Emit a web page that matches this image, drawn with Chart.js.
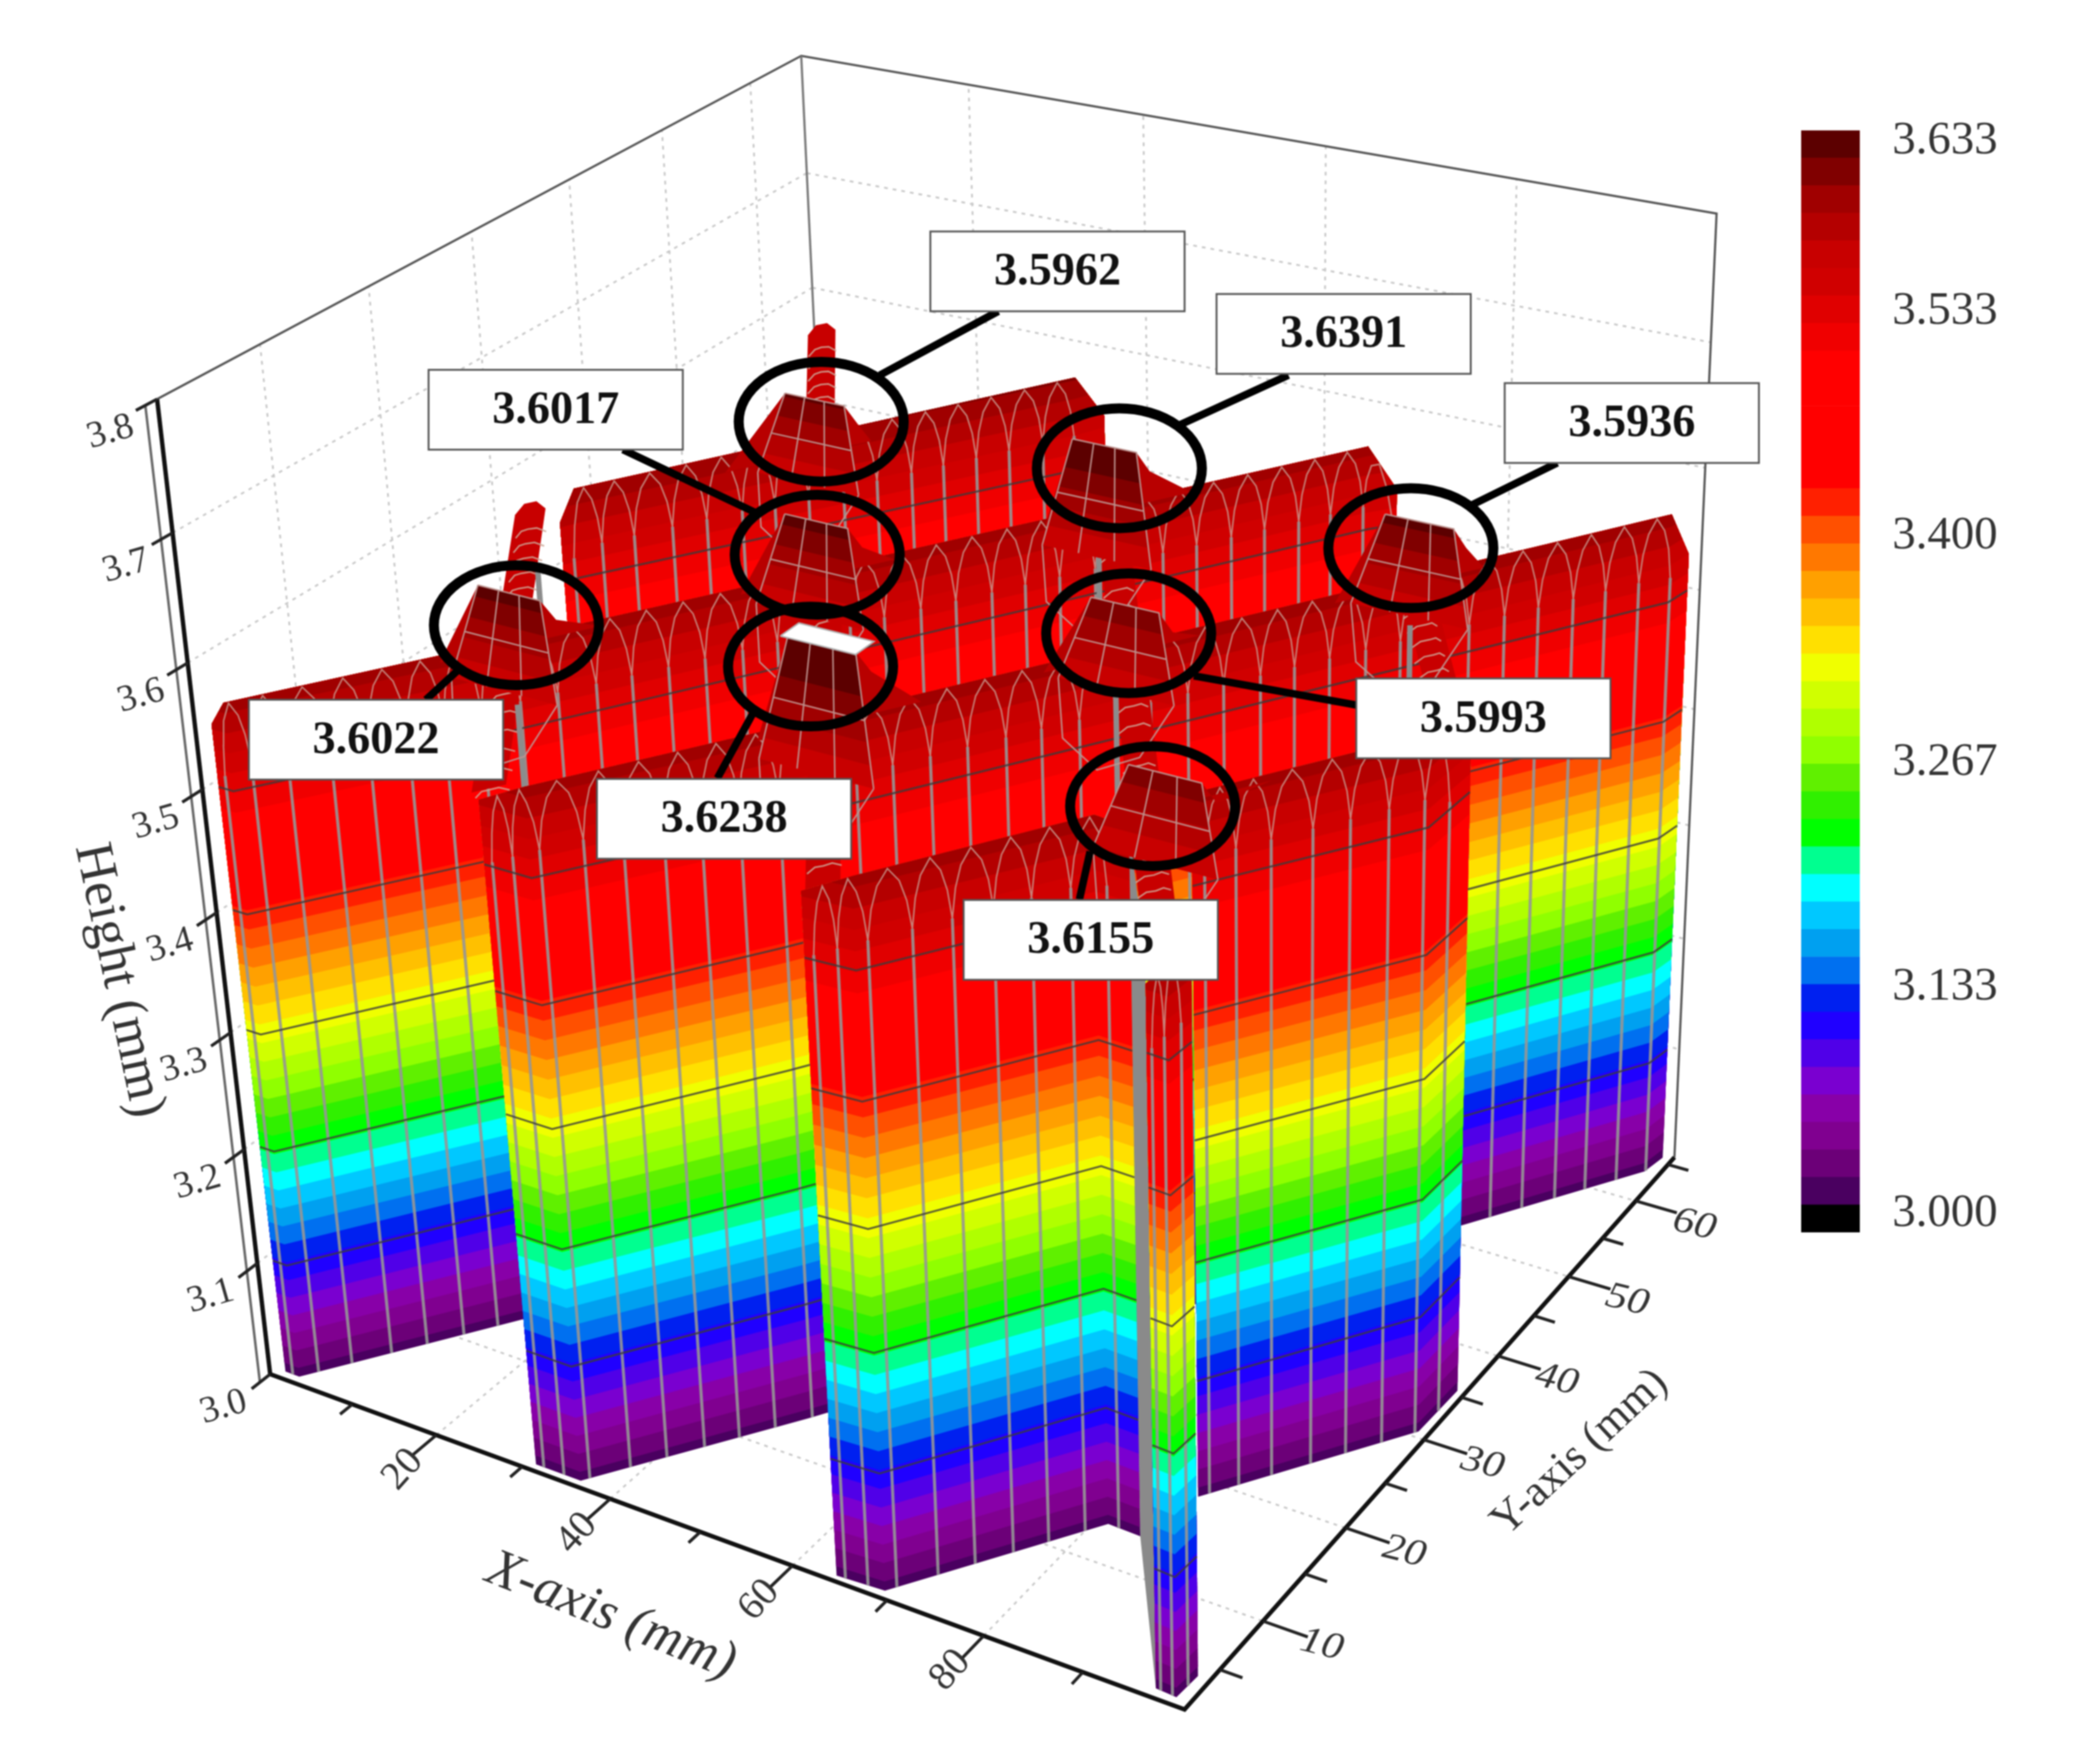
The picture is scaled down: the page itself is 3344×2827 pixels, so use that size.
<!DOCTYPE html>
<html><head><meta charset="utf-8">
<style>html,body{margin:0;padding:0;background:#fff}
#wrap{position:relative;width:3344px;height:2827px;overflow:hidden}
canvas{position:absolute;filter:blur(0.8px)}</style>
<script src="https://cdn.jsdelivr.net/npm/chart.js@4"></script></head>
<body><div id="wrap">
<canvas id="main" width="3344" height="2827" style="left:0;top:0"></canvas>
<canvas id="bar" width="458" height="1944" style="left:2886px;top:120px"></canvas>
</div>
<script>
// ---- data (mm / mm / mm) ----
const xTickMajor=[20,40,60,80], xTickMinor=[10,30,50,70,90];
const yTickMajor=[10,20,30,40,50,60], yTickMinor=[5,15,25,35,45,55,65];
const zTicks=[3.0,3.1,3.2,3.3,3.4,3.5,3.6,3.7,3.8];
const zTickLabels=['3.0','3.1','3.2','3.3','3.4','3.5','3.6','3.7','3.8'];
const xMax=100,yMin=1,yMax=66,zMin=3,zMax=3.8;

// footprint + top height of each rib, back to front
const rib0X=[3,3.8,33.5,35], rib0Y=[34,35,64,66], rib0Top=[3.55,3.575,3.58,3.54];
const rib1X=[1,2.7,15.6,66,68], rib1Y=[1.7,1.7,13.6,64.5,66], rib1Top=[3.55,3.57,3.572,3.57,3.53];
const rib2X=[30.9,36,48.8,98.5,99], rib2Y=[1.6,1.6,13.6,63.5,65.6], rib2Top=[3.55,3.57,3.572,3.572,3.53];
const rib3bX=[86.3,99,99.2], rib3bY=[18.4,30.6,35.5], rib3bTop=[3.57,3.572,3.54];
const rib3aX=[64.2,69.1,81.3,84.7], rib3aY=[1.5,1.7,13.5,13.4], rib3aTop=[3.55,3.57,3.572,3.57];
const sliverX=[84.7,96.5], sliverY=[13.4,1.8], sliverTop=[3.57,3.57];
const ribbonX=[96.5,98.6,98.8], ribbonY=[1.8,1.7,3.9], ribbonTop=[3.55,3.57,3.57];
const meshStations=[0.9,3.2,5.8,8.9,11.7,14.6,17.3,20.1,23,25.8,28.7,31.4,34.2,37,39.9,42.6,45.5,48.3,51,53.9,56.7,59.6,62.3,65.1,68,70.8,73.6,76.4,79.3,82.1,85,87.7,90.5,93.2];
const ribbonStations=[0.5,1.7,3.3];
const meshLevels=[3.1,3.2,3.3,3.4,3.5];

// cross ribs (x+y = sum, from x-y = a to x-y = b), drawn before the rib named in crossBefore
const crossSum =[67,34,34,68,100,68,100,132,100];
const crossFrom=[-63,-30,0,0,0,34,34,34,68];
const crossTo  =[-33,0,33,34,34,68,68,62,92];
const crossBefore=[0,1,2,2,2,3,3,3,4];
const crossEdgeAt=[null,-15,16.5,null,8.4,null,44,45,null];
const crossEdgeSide=[0,1,1,0,-1,0,-1,-1,0];

// the eight marked peaks
const peakText=['3.5962','3.6391','3.6017','3.5936','3.5993','3.6022','3.6238','3.6155'];
const peakX=[16,50,33,82,66,17,51,85];
const peakY=[50.5,49.5,34,51,34,17,17,17];
const peakZ=[3.5962,3.616,3.6017,3.6,3.592,3.6022,3.6238,3.59];
const peakRib=[0,1,1,2,2,1,2,4];
const peakPlane=[-30,1.5,1.5,35,35,1.5,35,68]; // x-y of the rib each peak sits on

// colour scale
const colorMin=3.0,colorMax=3.633;
const bandColors=['#000000','#4a0060','#6c0078','#800090','#8800a8','#7a00d0','#5000e8','#2000ff','#0020f0','#0070f0','#00a0f0','#00c8ff','#00ffff','#00ff90','#00ff00','#30f000','#60f000','#90ff00','#b0ff00','#d0ff00','#f0ff00','#ffe000','#ffc000','#ffa000','#ff7800','#ff5000','#ff2000','#ff0000','#ff0000','#ff0000','#ff0000','#ff0000','#f00000','#e00000','#d00000','#c80000','#b40000','#a00000','#800000','#5c0000'];
const colorTickPos=[3.0107,3.1407,3.2699,3.3998,3.529,3.6269];
const colorTickLabels=['3.000','3.133','3.267','3.400','3.533','3.633'];

// ---- perspective of the box ----
function P(x,y,z){
  const u=x/xMax,v=(y-yMin)/(yMax-yMin),h=(z-zMin)/(zMax-zMin);
  const w=1-.112*u+.165*v-.101*h;
  return {x:(203+587.3*u+534.4*v-96.9*h)/w,y:(1033+108.1*u-225*v-763.3*h)/w};
}
const GAP={x:NaN,y:NaN};
const layers=[];
function poly(pts,fill){layers.push({data:pts,showLine:true,fill:'shape',backgroundColor:fill,borderWidth:0,pointRadius:0});}
function line(pts,color,width,dash){layers.push({data:pts,showLine:true,fill:false,borderColor:color,borderWidth:width,borderDash:dash||[],pointRadius:0,borderCapStyle:'butt',spanGaps:false});}
const step=(colorMax-colorMin)/bandColors.length;
const surfaceLevel=i=>Math.max(zMin,colorMin+(i-1.5)*step);

function at(xs,ys,tops,s){
  let d=0;
  for(let i=0;i<xs.length-1;i++){
    const L=Math.hypot(xs[i+1]-xs[i],ys[i+1]-ys[i]);
    if(s<=d+L){const t=(s-d)/L;return [xs[i]+t*(xs[i+1]-xs[i]),ys[i]+t*(ys[i+1]-ys[i]),tops[i]+t*(tops[i+1]-tops[i])];}
    d+=L;
  }
  return null;
}
function wall(xs,ys,tops,stations){
  bandColors.forEach((c,i)=>{
    if(i===0)return;
    const lv=surfaceLevel(i);
    const keep=[];
    for(let k=0;k<xs.length;k++){
      if(tops[k]>=lv)keep.push([xs[k],ys[k],tops[k]]);
      if(k<xs.length-1&&(tops[k]-lv)*(tops[k+1]-lv)<0){
        const t=(lv-tops[k])/(tops[k+1]-tops[k]);
        keep.push([xs[k]+t*(xs[k+1]-xs[k]),ys[k]+t*(ys[k+1]-ys[k]),lv]);
      }
    }
    if(keep.length<2)return;
    const pts=keep.map(a=>P(a[0],a[1],lv));
    keep.slice().reverse().forEach(a=>pts.push(P(a[0],a[1],a[2])));
    poly(pts,c);
  });
  const vert=[],arch=[];
  const st=stations.filter(s=>at(xs,ys,tops,s));
  st.forEach((s,i)=>{
    const a=at(xs,ys,tops,s);
    vert.push(P(a[0],a[1],zMin),P(a[0],a[1],a[2]-.05),GAP);
    if(i<st.length-1){
      const d=st[i+1]-s;
      [[0,.05],[.1,.028],[.25,.012],[.5,.001],[.75,.012],[.9,.028],[1,.05]].forEach(([f,dz])=>{
        const b=at(xs,ys,tops,s+f*d)||a; arch.push(P(b[0],b[1],b[2]-dz));
      });
      arch.push(GAP);
    }
  });
  line(vert,'rgba(150,150,150,.9)',5);
  line(arch,'rgba(200,150,140,.85)',2.5);
  const hor=[];
  meshLevels.forEach(z=>{xs.forEach((x,k)=>{if(tops[k]>z)hor.push(P(x,ys[k],z));});hor.push(GAP);});
  line(hor,'rgba(60,60,60,.85)',3);
}
function cross(i){
  const S=crossSum[i],a=crossFrom[i],b=crossTo[i],W=1.7;
  const pt=(s,d,z)=>P((s+d)/2,(s-d)/2,z);
  poly([pt(S-W,a+.8,3.57),pt(S-W*.4,a,3.575),pt(S+W*.4,a,3.575),pt(S+W,a+.8,3.57),pt(S+W,b,3.57),pt(S-W,b,3.57)],'#c80000');
  const ch=[];
  [.12,.24,.36,.48,.6,.72,.84,.96].forEach(f=>{
    const d=a+f*(b-a);
    ch.push(pt(S-W,d-1.5,3.555),pt(S-W/2,d+.2,3.565),pt(S,d+1.6,3.57),pt(S+W/2,d+.2,3.565),pt(S+W,d-1.5,3.555),GAP);
  });
  line(ch,'rgba(205,165,150,.9)',2.5);
  if(crossEdgeAt[i]!==null){
    const m=crossEdgeAt[i],e=S+crossEdgeSide[i]*W;
    line([pt(e,m,3.57),pt(e,m,3.0)],'#8c8c8c',9);
  }
}
function peak(i){
  const cx=peakX[i],cy=peakY[i],zt=peakZ[i],zb=3.53,c0=peakPlane[i];
  const corner=(t,side)=>[cx+side*(6-2.5*t),cy-1.2*(1-t),zb+(zt-zb)*t];
  const pt=(t,s)=>{const c=corner(t,s);return P(c[0],c[1],c[2]);};
  const exR=cx+5.5,exL=cx-3;
  poly([P(exL,exL-c0,3.565),pt(1,-1),pt(1,1),P(cx+4.2,cy+.8,zt-.018),P(exR,exR-c0,3.565)],'#b80000');
  bandColors.forEach((c,k)=>{
    const lv=surfaceLevel(k);
    if(lv+step<=zb||lv>=zt)return;
    const t=Math.max(0,(lv-zb)/(zt-zb));
    poly([pt(t,-1),pt(t,1),pt(1,1),pt(1,-1)],c);
  });
  const m=[];
  [-.33,.33].forEach(s=>{m.push(pt(1,s),pt(0,s),GAP);});
  [.5].forEach(t=>{m.push(pt(t,-1),pt(t,1),GAP);});
  m.push(pt(1,-1),pt(1,1),pt(0,1),GAP,pt(1,-1),pt(0,-1),GAP);
  m.push(pt(0,-1),P(cx-4,cy-3,zb-.035),P(cx,cy-3.5,zb-.05),P(cx+4,cy-3,zb-.035),pt(0,1),GAP);
  line(m,'rgba(190,150,145,.95)',2.5);
  if(peakText[i]==='3.6238'){
    const q=[P(cx-4,cy-.3,zt),P(cx+3.8,cy-.3,zt),P(cx+3.8,cy+1.6,zt),P(cx-4,cy+1.6,zt)];
    poly(q,'#ffffff');
    line([q[0],q[1],q[2],q[3],q[0]],'#b0b0b0',2.5);
  }
}
function ribStage(n){crossSum.forEach((s,i)=>{if(crossBefore[i]===n)cross(i);});}
function peaksOf(n){peakRib.forEach((r,i)=>{if(r===n)peak(i);});}

// ---- grid on the back walls and floor ----
const gridColor='#c9c9c9',gridDash=[6,8];
xTickMajor.forEach(x=>{
  line([P(x,yMax,zMin),P(x,yMax,zMax)],gridColor,3,gridDash);
  line([P(x,yMin,zMin),P(x,yMax,zMin)],gridColor,3,gridDash);
});
yTickMajor.forEach(y=>{
  line([P(0,y,zMin),P(0,y,zMax)],gridColor,3,gridDash);
  line([P(0,y,zMin),P(xMax,y,zMin)],gridColor,3,gridDash);
});
zTicks.slice(1,8).forEach(z=>{
  line([P(0,yMin,z),P(0,yMax,z)],gridColor,3,gridDash);
  line([P(0,yMax,z),P(xMax,yMax,z)],gridColor,3,gridDash);
});
// box frame
line([P(0,yMin,zMax),P(0,yMax,zMax),P(xMax,yMax,zMax),P(xMax,yMax,zMin)],'#555555',3.5);
line([P(0,yMax,zMax),P(0,yMax,zMin)],'#777777',3.5);

// ---- surface ----
ribStage(0);
wall(rib0X,rib0Y,rib0Top,meshStations);
ribStage(1);
peaksOf(0);
wall(rib1X,rib1Y,rib1Top,meshStations);
ribStage(2);
peaksOf(1);
wall(rib2X,rib2Y,rib2Top,meshStations);
ribStage(3);
peaksOf(2);
wall(rib3bX,rib3bY,rib3bTop,meshStations);
wall(rib3aX,rib3aY,rib3aTop,meshStations);
ribStage(4);
poly([P(sliverX[0],sliverY[0],zMin),P(sliverX[1],sliverY[1],zMin),P(sliverX[1],sliverY[1],sliverTop[1]),P(sliverX[0],sliverY[0],sliverTop[0])],'#8a8a8a');
wall(ribbonX,ribbonY,ribbonTop,ribbonStations);
peaksOf(4);

// ---- axes ----
line([P(0,yMin,zMin),P(xMax,yMin,zMin),P(xMax,yMax,zMin)],'#111111',7);
line([P(0,yMin,zMin),P(0,yMin,zMax)],'#111111',7);
line([P(0,yMin-1,zMin),P(0,yMin-1,zMax),P(0,yMin,zMax)],'#666666',4);
line([P(0,yMin-1,zMin),P(0,yMin,zMin)],'#333333',4);
const tk=[];
xTickMajor.forEach(x=>tk.push(P(x,yMin,zMin),P(x,yMin-2.4,zMin),GAP));
xTickMinor.forEach(x=>tk.push(P(x,yMin,zMin),P(x,yMin-1.2,zMin),GAP));
yTickMajor.forEach(y=>tk.push(P(xMax,y,zMin),P(xMax+4.4,y,zMin),GAP));
yTickMinor.forEach(y=>tk.push(P(xMax,y,zMin),P(xMax+2.2,y,zMin),GAP));
zTicks.forEach(z=>tk.push(P(0,yMin,z),P(0,yMin-1.8,z),GAP));
line(tk,'#222222',5);

// ---- annotations ----
const boxCx=[794.5,1009.5,417.5,1226,1114.5,282.5,544,819.5];
const boxCy=[204,251,308,318,540,556,615.5,706.5];
const ringCx=[617,841,614,1060,848,388,609,866];
const ringCy=[317,352,417,412,476,470,501,606];
const leadX1=[661,885,567,1105,897,345,568,819];
const leadY1=[282,320,385,380,508,503,532,640];
const leadX2=[750,968,468,1170,1019,320,539,811];
const leadY2=[234,282,338,348,530,526,585,676];

const labelsPlugin={id:'labels',afterDatasetsDraw(chart){
  const c=chart.ctx,sx=chart.scales.x,sy=chart.scales.y;
  const X=v=>sx.getPixelForValue(v),Y=v=>sy.getPixelForValue(v);
  const txt=(s,vx,vy,rot,font,sc,col)=>{
    c.save();c.translate(X(vx),Y(vy));c.rotate(rot*Math.PI/180);c.scale(sc||1,1);
    c.font=font;c.fillStyle=col||'#333';c.textAlign='center';c.textBaseline='middle';c.fillText(s,0,0);c.restore();
  };
  const serif='"Liberation Serif"';
  peakText.forEach((t,i)=>{
    c.beginPath();c.moveTo(X(leadX1[i]),Y(leadY1[i]));c.lineTo(X(leadX2[i]),Y(leadY2[i]));
    c.strokeStyle='#000';c.lineWidth=12;c.stroke();
    c.beginPath();c.ellipse(X(ringCx[i]),Y(ringCy[i]),X(62)-X(0),Y(45)-Y(0),0,0,Math.PI*2);
    c.lineWidth=16;c.stroke();
  });
  peakText.forEach((t,i)=>{
    const w=X(95.5)-X(0),h=Y(30)-Y(0),x=X(boxCx[i])-w,y=Y(boxCy[i])-h;
    c.fillStyle='#fff';c.fillRect(x,y,2*w,2*h);
    c.strokeStyle='#555';c.lineWidth=3;c.strokeRect(x,y,2*w,2*h);
    txt(t,boxCx[i],boxCy[i]+1,0,'bold 74px '+serif,1,'#111');
  });
  zTicks.forEach((z,i)=>{const p=P(0,yMin,z);txt(zTickLabels[i],p.x-35,p.y+25,-16,'60px '+serif);});
  xTickMajor.forEach(x=>{const p=P(x,yMin,zMin);txt(String(x),p.x-25,p.y+26,-48,'64px '+serif);});
  yTickMajor.forEach(y=>{const p=P(xMax,y,zMin);txt(String(y),p.x+44,p.y+18,14,'italic 60px '+serif,1.15);});
  txt('Height (mm)',89,737,78,'86px '+serif);
  txt('X-axis (mm)',459,1215,22,'italic 86px '+serif);
  txt('Y-axis (mm)',1187,1092,-43,'71px '+serif);
}};

Chart.defaults.animation=false;
layers.reverse();
new Chart(document.getElementById('main'),{
  type:'scatter',
  data:{datasets:layers},
  plugins:[labelsPlugin],
  options:{responsive:false,animation:false,devicePixelRatio:1,events:[],
    layout:{padding:0,autoPadding:false},
    elements:{line:{tension:0}},
    plugins:{legend:{display:false},tooltip:{enabled:false}},
    scales:{x:{type:'linear',display:false,min:0,max:1568},
            y:{type:'linear',display:false,min:0,max:1326,reverse:true}}}
});
new Chart(document.getElementById('bar'),{
  type:'bar',
  data:{labels:['Height'],datasets:bandColors.map((c,i)=>({
    data:[[colorMin+i*step,colorMin+(i+1)*step]],backgroundColor:c,barPercentage:1,categoryPercentage:1,borderWidth:0}))},
  options:{responsive:false,animation:false,devicePixelRatio:1,events:[],
    layout:{padding:{top:30,bottom:30,left:0,right:0},autoPadding:false},
    plugins:{legend:{display:false},tooltip:{enabled:false}},
    scales:{
      x:{stacked:true,display:false},
      y:{position:'right',min:colorMin,max:colorMax,
         grid:{display:false},border:{display:false},
         afterFit(s){s.width=364;},
         afterBuildTicks(s){s.ticks=colorTickPos.map(v=>({value:v}));},
         ticks:{autoSkip:false,padding:44,color:'#333',font:{family:'"Liberation Serif"',size:75},
                callback:(v,i)=>colorTickLabels[i]}}}}
});
</script></body></html>
